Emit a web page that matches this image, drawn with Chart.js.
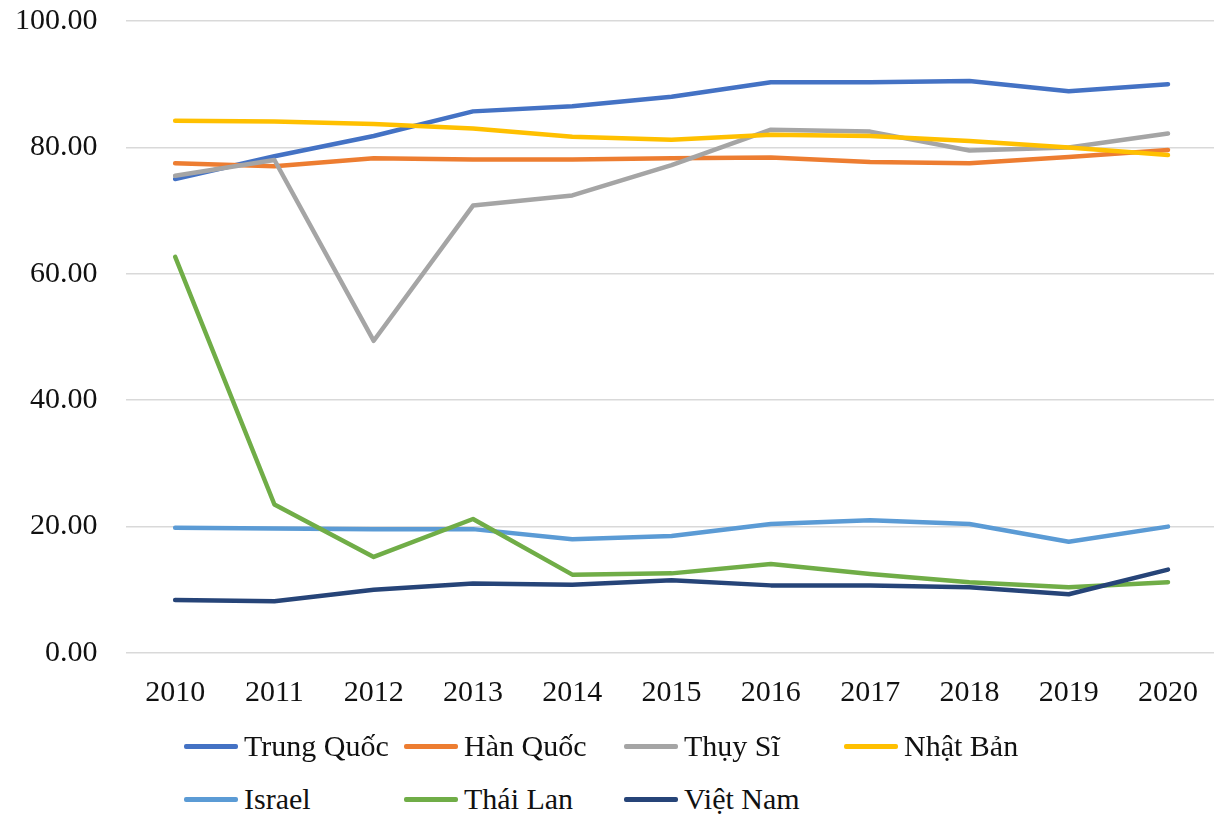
<!DOCTYPE html>
<html>
<head>
<meta charset="utf-8">
<script src="https://cdn.jsdelivr.net/npm/chart.js@4.4.1/dist/chart.umd.min.js"></script>
<style>
  html, body { margin: 0; padding: 0; background: #fff; overflow: hidden; }
  #wrap { position: relative; width: 1214px; height: 815px; overflow: hidden; }
  #box { position: absolute; left: -25px; top: -25px; width: 1245px; height: 758px; }
  #legend { position: absolute; left: 0; top: 0; font-family: "Liberation Serif", "Times New Roman", serif; font-size: 30px; color: #111; }
  .item { position: absolute; display: flex; align-items: center; white-space: nowrap; height: 40px; }
  .swatch { width: 54px; height: 5px; border-radius: 2px; margin-right: 6px; }
</style>
</head>
<body>
<div id="wrap">
  <div id="box"><canvas id="myChart"></canvas></div>
  <div id="legend"></div>
</div>
<script>
var years = ['2010', '2011', '2012', '2013', '2014', '2015', '2016', '2017', '2018', '2019', '2020'];
var countries = ['Trung Quốc', 'Hàn Quốc', 'Thụy Sĩ', 'Nhật Bản', 'Israel', 'Thái Lan', 'Việt Nam'];
var colors = ['#4472C4', '#ED7D31', '#A5A5A5', '#FFC000', '#5B9BD5', '#70AD47', '#264478'];

var trungQuoc = [75.0, 78.6, 81.8, 85.7, 86.5, 88.0, 90.3, 90.3, 90.5, 88.9, 90.0];
var hanQuoc   = [77.5, 77.0, 78.3, 78.1, 78.1, 78.3, 78.4, 77.7, 77.5, 78.5, 79.6];
var thuySi    = [75.5, 78.0, 49.4, 70.8, 72.4, 77.2, 82.8, 82.5, 79.5, 80.0, 82.2];
var nhatBan   = [84.2, 84.1, 83.7, 83.0, 81.7, 81.2, 82.0, 81.8, 81.0, 80.0, 78.8];
var israel    = [19.8, 19.7, 19.6, 19.6, 18.0, 18.5, 20.4, 21.0, 20.4, 17.6, 20.0];
var thaiLan   = [62.7, 23.5, 15.2, 21.2, 12.4, 12.6, 14.1, 12.5, 11.2, 10.4, 11.2];
var vietNam   = [8.4, 8.2, 10.0, 11.0, 10.8, 11.5, 10.7, 10.7, 10.4, 9.3, 13.2];

var series = [trungQuoc, hanQuoc, thuySi, nhatBan, israel, thaiLan, vietNam];

var font = "'Liberation Serif', 'Times New Roman', serif";

// excel draws the last series on top, chart.js the first -> flip with order
var datasets = series.map(function (vals, i) {
    return {
        label: countries[i],
        data: vals,
        borderColor: colors[i],
        backgroundColor: colors[i],
        borderWidth: 4.5,
        pointRadius: 0,
        tension: 0,
        borderJoinStyle: 'round',
        borderCapStyle: 'round',
        order: series.length - i
    };
});

var ctx = document.getElementById('myChart');
var myChart = new Chart(ctx, {
    type: 'line',
    data: { labels: years, datasets: datasets },
    options: {
        responsive: true,
        maintainAspectRatio: false,
        animation: false,
        layout: { padding: { left: 12, top: 0, right: 0, bottom: 0 } },
        plugins: { legend: { display: false }, tooltip: { enabled: false } },
        scales: {
            x: {
                offset: true,
                grid: { display: false, drawTicks: false },
                border: { display: false },
                ticks: { color: '#111', font: { family: font, size: 30 }, padding: 22, maxRotation: 0 }
            },
            y: {
                min: 0,
                max: 100,
                grid: { color: '#d9d9d9', lineWidth: 1.5, drawTicks: false },
                border: { display: false },
                ticks: {
                    stepSize: 20,
                    color: '#111',
                    font: { family: font, size: 30 },
                    padding: 28,
                    callback: function (v) { return v.toFixed(2); }
                }
            }
        }
    }
});

// legend laid out in 4 columns like the excel one
var legend = document.getElementById('legend');
countries.forEach(function (name, i) {
    var item = document.createElement('div');
    item.className = 'item';
    item.style.left = (184 + (i % 4) * 220) + 'px';
    item.style.top = (726 + Math.floor(i / 4) * 53) + 'px';
    item.innerHTML = '<span class="swatch" style="background:' + colors[i] + '"></span>' + name;
    legend.appendChild(item);
});
</script>
</body>
</html>
